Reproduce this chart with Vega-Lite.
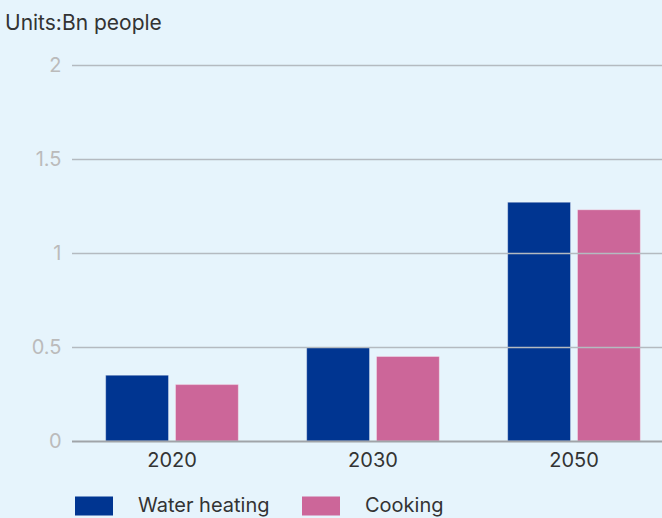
{
  "$schema": "https://vega.github.io/schema/vega-lite/v6.json",
  "width": 594,
  "height": 376,
  "autosize": "none",
  "padding": {"left": 68, "top": 65, "right": 0, "bottom": 77},
  "background": "#e6f4fc",
  "config": {
    "font": "Inter",
    "view": {"stroke": null},
    "axis": {"labelFont": "Inter", "titleFont": "Inter"},
    "legend": {"labelFont": "Inter"}
  },
  "title": {
    "text": "Units:Bn people",
    "anchor": "start",
    "frame": "group",
    "dx": -63,
    "offset": 21,
    "fontSize": 21,
    "fontWeight": "normal",
    "color": "#333333",
    "font": "Inter"
  },
  "data": {
    "values": [
      {"year": "2020", "type": "Water heating", "value": 0.35},
      {"year": "2020", "type": "Cooking", "value": 0.30},
      {"year": "2030", "type": "Water heating", "value": 0.50},
      {"year": "2030", "type": "Cooking", "value": 0.45},
      {"year": "2050", "type": "Water heating", "value": 1.27},
      {"year": "2050", "type": "Cooking", "value": 1.23}
    ]
  },
  "mark": {"type": "bar", "stroke": "#ffffff", "strokeOpacity": 0.35, "strokeWidth": 1},
  "encoding": {
    "x": {
      "field": "year",
      "type": "nominal",
      "scale": {"range": [3.5, 606.5], "paddingInner": 0.34, "paddingOuter": 0.17},
      "axis": {
        "title": null,
        "labelAngle": 0,
        "labelFontSize": 20,
        "labelColor": "#333333",
        "labelPadding": 9,
        "ticks": false,
        "domain": false
      }
    },
    "xOffset": {
      "field": "type",
      "type": "nominal",
      "sort": ["Water heating", "Cooking"],
      "scale": {"paddingInner": 0.1}
    },
    "y": {
      "field": "value",
      "type": "quantitative",
      "scale": {"domain": [0, 2]},
      "axis": {
        "title": null,
        "values": [0, 0.5, 1, 1.5, 2],
        "format": "~g",
        "labelFontSize": 20,
        "labelColor": "#bbbbbb",
        "labelPadding": 7,
        "ticks": false,
        "domain": false,
        "gridColor": {"condition": {"test": "datum.value === 0", "value": "#a0a4a8"}, "value": "#b4bac0"},
        "gridWidth": {"condition": {"test": "datum.value === 0", "value": 2}, "value": 1.5},
        "zindex": 1
      }
    },
    "color": {
      "field": "type",
      "type": "nominal",
      "sort": ["Water heating", "Cooking"],
      "scale": {"domain": ["Water heating", "Cooking"], "range": ["#003591", "#cc6699"]},
      "legend": {
        "title": null,
        "orient": "none",
        "direction": "horizontal",
        "legendX": 7,
        "legendY": 422,
        "symbolType": "M-1,-0.5H1V0.5H-1Z",
        "symbolSize": 1444,
        "symbolStrokeWidth": 0,
        "symbolOpacity": 1,
        "labelFontSize": 20,
        "labelColor": "#333333",
        "labelOffset": 25,
        "columnPadding": 32
      }
    }
  }
}
